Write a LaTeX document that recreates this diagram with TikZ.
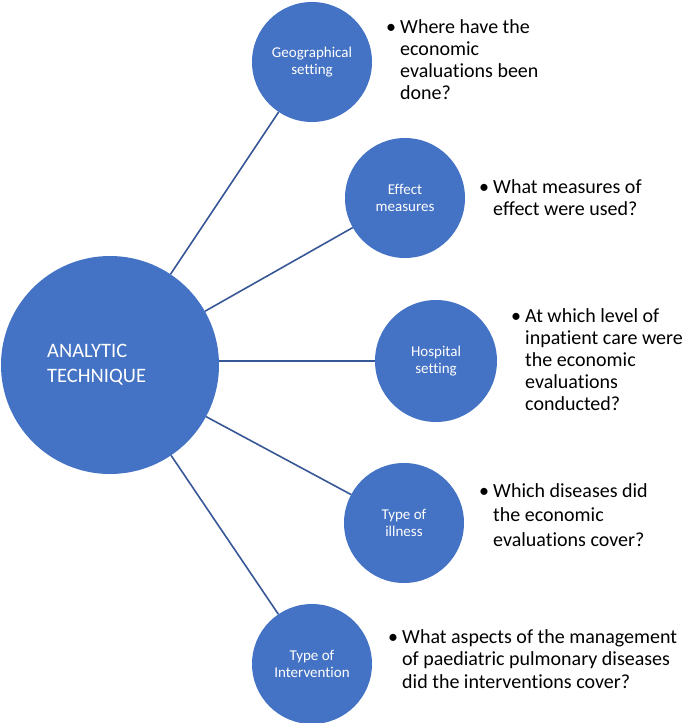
\documentclass[tikz,border=0pt]{standalone}
\usepackage{fontspec}
\setmainfont{Carlito}[Ligatures=NoCommon]
\definecolor{circblue}{RGB}{68,114,196}
\definecolor{lineblue}{RGB}{56,87,150}
\tikzset{
  hub/.style={circle, fill=circblue, draw=none, inner sep=0pt, minimum size=218pt},
  topic/.style={circle, fill=circblue, draw=none, inner sep=0pt, minimum size=120pt,
    text=white, align=center, font=\fontsize{15pt}{17pt}\selectfont},
  hubtext/.style={text=white, align=left, inner sep=0pt, anchor=base west,
    font=\fontsize{20.5pt}{25pt}\selectfont},
  question/.style={text=black, align=left, inner sep=0pt, anchor=base west,
    font=\fontsize{20pt}{22pt}\selectfont},
  conn/.style={draw=lineblue, line width=1.6pt}
}
\newcommand{\bul}{\llap{\textbullet\hspace{4pt}}}
\begin{document}
\begin{tikzpicture}[x=1pt,y=-1pt]
\useasboundingbox (0,0) rectangle (685,723);
% circles
\node[hub] (big) at (110,365) {};
\node[hubtext] (bigtext) at (47,382) {ANALYTIC\\TECHNIQUE};
\node[topic] (geo) at (312,62) {Geographical\\setting};
\node[topic] (eff) at (405,198) {Effect\\measures};
\node[topic, minimum size=122pt] (hos) at (436,361) {Hospital\\setting};
\node[topic] (ill) at (404,523) {Type of\\illness};
\node[topic] (int) at (312,664) {Type of\\Intervention};
% connectors
\draw[conn] (big) -- (geo);
\draw[conn] (big) -- (eff);
\draw[conn] (big.east |- hos.west) -- (hos.west);
\draw[conn] (big) -- (ill);
\draw[conn] (big) -- (int);
% questions (anchored at the baseline of the last line)
\node[question] (q1) at (400,99) {\bul Where have the\\economic\\evaluations been\\done?};
\node[question] (q2) at (493,215) {\bul What measures of\\effect were used?};
\node[question] (q3) at (525,410) {\bul At which level of\\inpatient care were\\the economic\\evaluations\\conducted?};
\node[question, font=\fontsize{20pt}{24.5pt}\selectfont] (q4) at (493,546) {\bul Which diseases did\\the economic\\evaluations cover?};
\node[question, font=\fontsize{20pt}{22.5pt}\selectfont] (q5) at (402,688) {\bul What aspects of the management\\of paediatric pulmonary diseases\\did the interventions cover?};
\end{tikzpicture}
\end{document}
